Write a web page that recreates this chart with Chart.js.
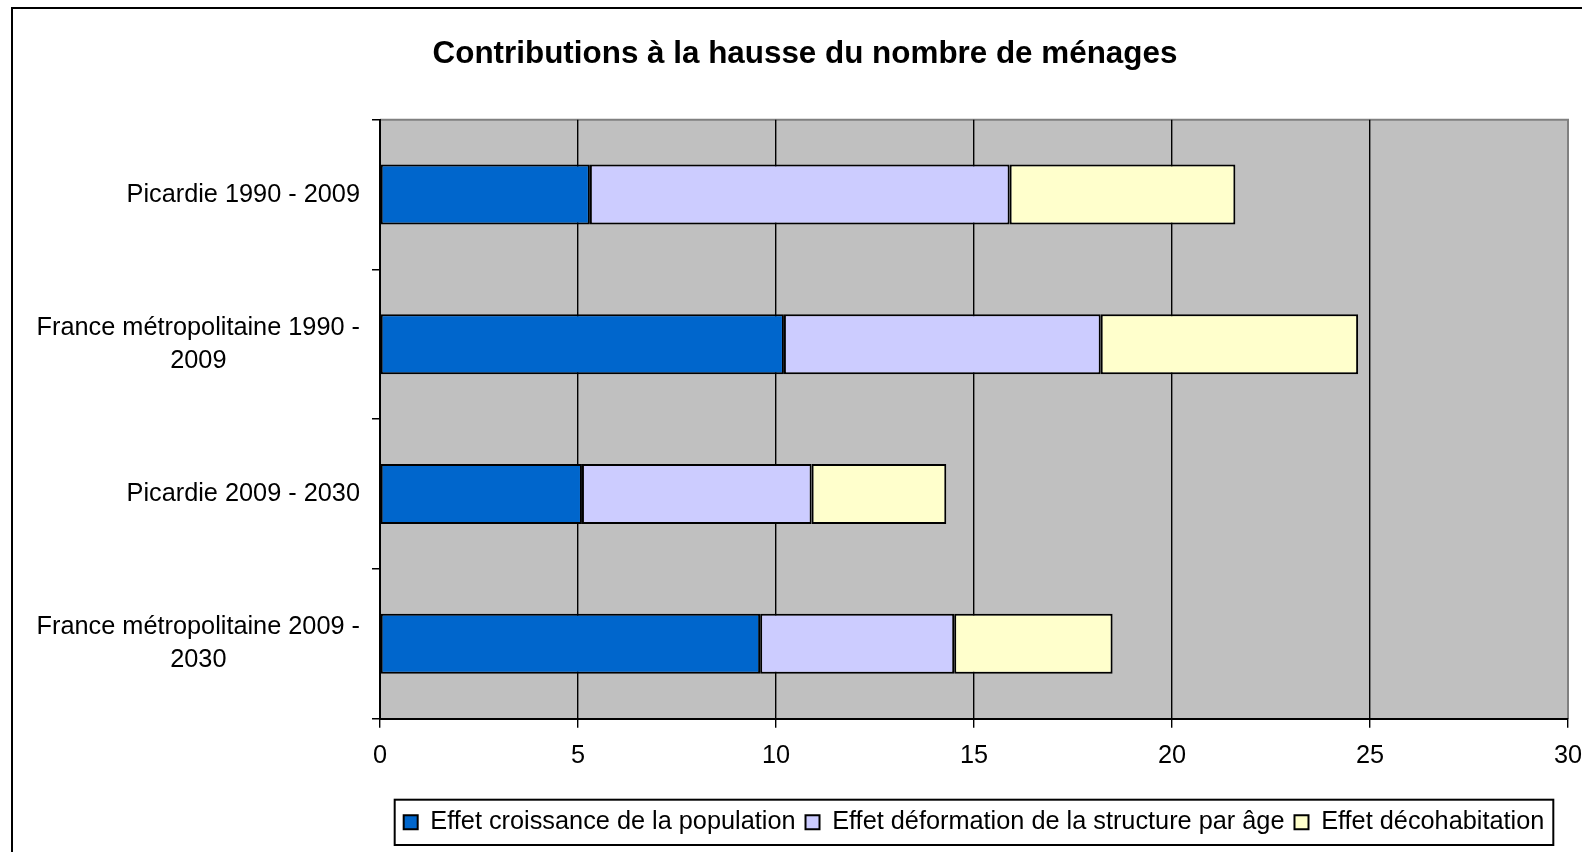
<!DOCTYPE html>
<html>
<head>
<meta charset="utf-8">
<script src="https://cdn.jsdelivr.net/npm/chart.js@4.4.0/dist/chart.umd.min.js"></script>
<style>
  body { margin: 0; background: #fff; }
  #wrap { position: absolute; left: 0; top: 0; width: 1582px; height: 852px; }
</style>
</head>
<body>
<div id="wrap"><canvas id="chart" width="1582" height="852"></canvas></div>
<script>
const categories = [
    ['Picardie 1990 - 2009'],
    ['France métropolitaine 1990 -', '2009'],
    ['Picardie 2009 - 2030'],
    ['France métropolitaine 2009 -', '2030']
];
const seriesNames = ['Effet croissance de la population', 'Effet déformation de la structure par âge', 'Effet décohabitation'];
const croissance = [5.3, 10.2, 5.1, 9.6];
const deformation = [10.6, 8.0, 5.8, 4.9];
const decohabitation = [5.7, 6.5, 3.4, 4.0];
const xTicks = [0, 5, 10, 15, 20, 25, 30];

const FONT = '"Liberation Sans", Arial, sans-serif';
const TICK_SIZE = 25.3;

// second line of a wrapped label is centred under the first one
const measure = document.createElement('canvas').getContext('2d');
measure.font = TICK_SIZE + 'px ' + FONT;
function centerLines(lines) {
    if (lines.length < 2) return lines;
    const w0 = measure.measureText(lines[0]).width;
    const sp = measure.measureText(' ').width;
    return lines.map(l => {
        const n = Math.round((w0 - measure.measureText(l).width) / 2 / sp);
        return n > 0 ? l + ' '.repeat(n) : l;
    });
}

const frame = {
    id: 'frame',
    afterLayout(chart) {
        // the title sits a bit right of the canvas centre in the original
        chart.titleBlock.left += 30;
    },
    beforeDraw(chart) {
        const ctx = chart.ctx, a = chart.chartArea;
        ctx.save();
        ctx.fillStyle = '#fff';
        ctx.fillRect(0, 0, chart.width, chart.height);
        ctx.strokeStyle = '#000';
        ctx.lineWidth = 2;
        ctx.strokeRect(12, 8, 1700, 1000);
        ctx.fillStyle = '#C0C0C0';
        ctx.fillRect(a.left, a.top, a.right - a.left, a.bottom - a.top);
        ctx.strokeStyle = '#808080';
        ctx.beginPath();
        ctx.moveTo(a.left, a.top);
        ctx.lineTo(a.right, a.top);
        ctx.lineTo(a.right, a.bottom);
        ctx.stroke();
        ctx.restore();
    },
    afterDraw(chart) {
        const lg = chart.legend;
        if (!lg || !lg.legendHitBoxes.length) return;
        const boxes = lg.legendHitBoxes;
        const left = Math.min(...boxes.map(b => b.left)) - 9;
        const right = Math.max(...boxes.map(b => b.left + b.width)) + 9;
        const ctx = chart.ctx;
        ctx.save();
        ctx.strokeStyle = '#000';
        ctx.lineWidth = 2;
        ctx.strokeRect(left, lg.top, right - left, lg.bottom - lg.top);
        ctx.restore();
    }
};

new Chart(document.getElementById('chart'), {
    type: 'bar',
    data: {
        labels: categories,
        datasets: [
            { label: seriesNames[0], data: croissance, backgroundColor: '#0066CC' },
            { label: seriesNames[1], data: deformation, backgroundColor: '#CCCCFF' },
            { label: seriesNames[2], data: decohabitation, backgroundColor: '#FFFFCC' }
        ]
    },
    options: {
        indexAxis: 'y',
        responsive: false,
        animation: false,
        devicePixelRatio: 1,
        layout: { padding: { left: 12, right: 14, top: 0, bottom: 7 } },
        datasets: {
            bar: {
                borderColor: '#000',
                borderWidth: 2,
                borderSkipped: false,
                barPercentage: 0.4,
                categoryPercentage: 1
            }
        },
        scales: {
            x: {
                stacked: true,
                min: 0,
                max: 30,
                afterBuildTicks(scale) { scale.ticks = xTicks.map(v => ({ value: v })); },
                afterFit(scale) {
                    scale.height = 81;
                    // the "30" label is allowed to run past the edge, as in the original
                    scale.paddingRight = 0;
                },
                grid: {
                    color: ctx => (ctx.tick && ctx.tick.value === 30 ? '#808080' : '#000'),
                    tickColor: '#000',
                    lineWidth: 1.4,
                    tickLength: 9
                },
                border: { color: '#000', width: 2 },
                ticks: {
                    color: '#000',
                    padding: 13,
                    maxRotation: 0,
                    font: { family: FONT, size: TICK_SIZE }
                }
            },
            y: {
                stacked: true,
                afterFit(scale) { scale.width = 368; },
                grid: {
                    drawOnChartArea: false,
                    drawTicks: true,
                    tickLength: 8,
                    color: '#000',
                    lineWidth: 1.5
                },
                border: { color: '#000', width: 2 },
                ticks: {
                    color: '#000',
                    padding: 12,
                    callback(value) { return centerLines(categories[value]); },
                    font: { family: FONT, size: TICK_SIZE, lineHeight: 1.31 }
                }
            }
        },
        plugins: {
            title: {
                display: true,
                text: 'Contributions à la hausse du nombre de ménages',
                color: '#000',
                font: { family: FONT, size: 31.4, weight: 'bold', lineHeight: 1.2 },
                padding: { top: 36, bottom: 46 }
            },
            legend: {
                position: 'bottom',
                fullSize: false,
                labels: {
                    color: '#000',
                    boxWidth: 14,
                    boxHeight: 14,
                    padding: 10,
                    font: { family: FONT, size: 25.3 }
                }
            },
            tooltip: { enabled: false }
        }
    },
    plugins: [frame]
});
</script>
</body>
</html>
